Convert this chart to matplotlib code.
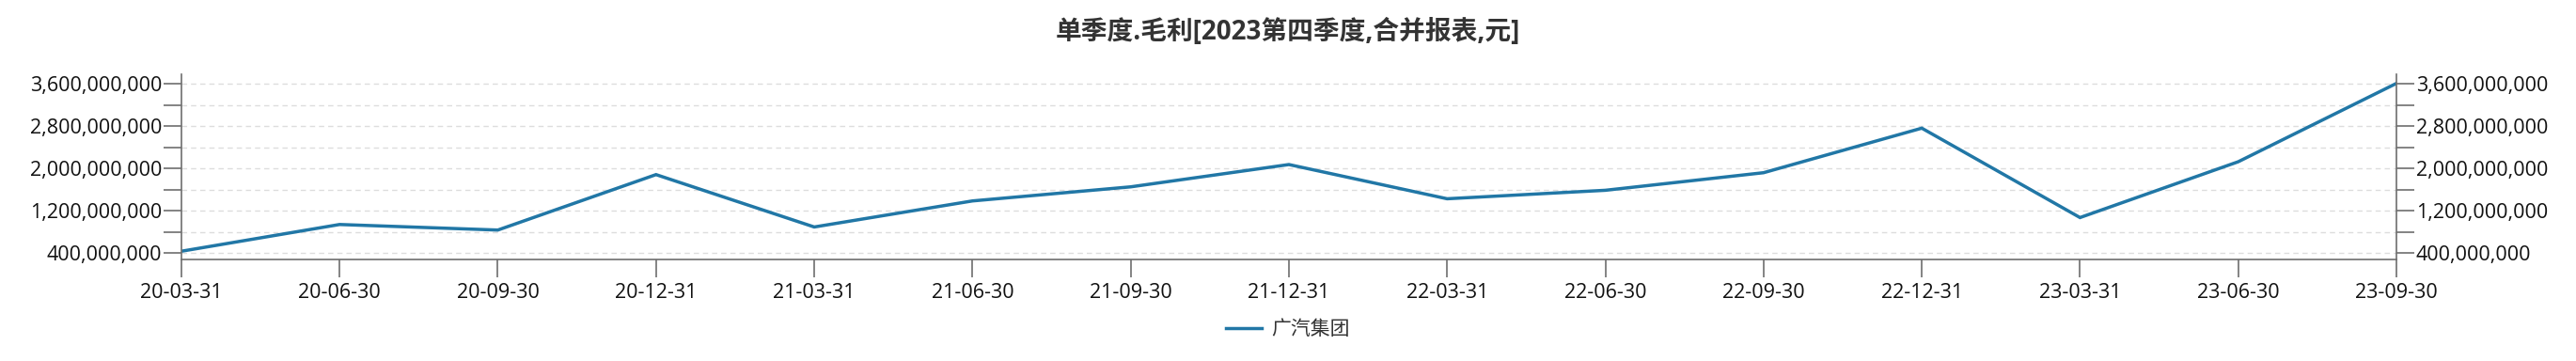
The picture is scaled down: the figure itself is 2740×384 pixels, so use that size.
"""Single-quarter gross profit line chart (GAC Group)."""

import matplotlib

matplotlib.use("Agg")
import matplotlib.pyplot as plt
from matplotlib.ticker import FixedLocator, FuncFormatter

plt.rcParams["font.family"] = ["Open Sans", "Noto Sans CJK SC", "DejaVu Sans"]

# Data.
quarters = [
    "20-03-31", "20-06-30", "20-09-30", "20-12-31",
    "21-03-31", "21-06-30", "21-09-30", "21-12-31",
    "22-03-31", "22-06-30", "22-09-30", "22-12-31",
    "23-03-31", "23-06-30", "23-09-30",
]
gross_profit = [
    0.44e9, 0.945e9, 0.84e9, 1.887e9,
    0.898e9, 1.39e9, 1.656e9, 2.077e9,
    1.431e9, 1.591e9, 1.923e9, 2.764e9,
    1.076e9, 2.13e9, 3.61e9,
]
series_name = "广汽集团"
title = "单季度.毛利[2023第四季度,合并报表,元]"
major_ticks = [0.4e9, 1.2e9, 2.0e9, 2.8e9, 3.6e9]
minor_ticks = [0.8e9, 1.6e9, 2.4e9, 3.2e9]

LINE_COLOR = "#2177a6"
AXIS_COLOR = "#6e6e6e"
TEXT_COLOR = "#333333"

fig = plt.figure(figsize=(27.4, 3.84), dpi=100)
ax = fig.add_axes([0.0704, 0.28, 0.8599, 0.514])

x = list(range(len(quarters)))
(line,) = ax.plot(x, gross_profit, color=LINE_COLOR, linewidth=2.5,
                  solid_joinstyle="miter", label=series_name)

ax.set_xlim(0, len(quarters) - 1)
ax.set_ylim(0.276e9, 3.78e9)
ax.set_xticks(x)
ax.set_xticklabels(quarters)

fmt = FuncFormatter(lambda v, _: f"{v:,.0f}")
ax.yaxis.set_major_locator(FixedLocator(major_ticks))
ax.yaxis.set_minor_locator(FixedLocator(minor_ticks))
ax.yaxis.set_major_formatter(fmt)

ax.grid(axis="y", which="both", linestyle=(0, (4, 3)), color="#dddddd",
        linewidth=1.0)
ax.set_axisbelow(True)

ax2 = ax.twinx()
ax2.set_ylim(ax.get_ylim())
ax2.yaxis.set_major_locator(FixedLocator(major_ticks))
ax2.yaxis.set_minor_locator(FixedLocator(minor_ticks))
ax2.yaxis.set_major_formatter(fmt)

for a in (ax, ax2):
    a.spines["top"].set_visible(False)
    for side in ("left", "right", "bottom"):
        a.spines[side].set_color(AXIS_COLOR)
        a.spines[side].set_linewidth(1.2)
    a.tick_params(axis="y", which="both", length=14, width=1.2,
                  color=AXIS_COLOR, labelsize=15.5, labelcolor="#111111",
                  pad=1)
ax2.spines["left"].set_visible(False)
ax2.spines["bottom"].set_visible(False)
ax.spines["right"].set_visible(False)
ax.tick_params(axis="x", length=14, width=1.2, color=AXIS_COLOR,
               labelsize=15.5, labelcolor="#111111", pad=4)

fig.suptitle(title, x=0.5, y=0.948, fontsize=20, fontweight="bold",
             color=TEXT_COLOR)

fig.legend(handles=[line], loc="center", bbox_to_anchor=(0.5, 0.086),
           frameon=False, fontsize=15, handlelength=1.8, handletextpad=0.5,
           labelcolor=TEXT_COLOR)

fig.savefig("out.png", dpi=100)
